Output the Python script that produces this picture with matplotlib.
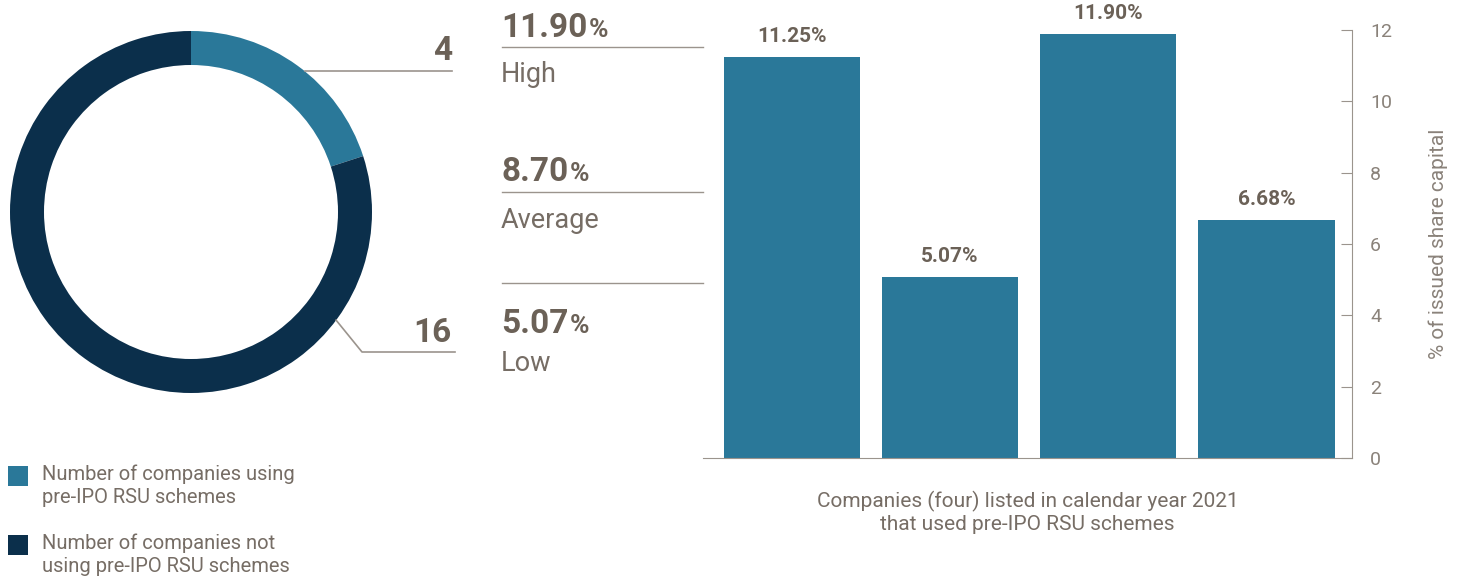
import numpy as np
import matplotlib
matplotlib.use('Agg')
import matplotlib.pyplot as plt
from matplotlib.patches import Rectangle
from matplotlib.lines import Line2D

# данные
donut_labels = ["Number of companies using\npre-IPO RSU schemes",
                "Number of companies not\nusing pre-IPO RSU schemes"]
donut_values = [4, 16]
stat_values = ["11.90", "8.70", "5.07"]
stat_names = ["High", "Average", "Low"]
bar_values = [11.25, 5.07, 11.90, 6.68]
bar_labels = ["11.25%", "5.07%", "11.90%", "6.68%"]
y_ticks = [0, 2, 4, 6, 8, 10, 12]

BLUE = '#2a7899'
NAVY = '#0b2f4b'
NUM = '#6b6157'
TXT = '#766d65'
TICK = '#8a827a'
LINE = '#9b948d'
W, H = 1466, 581

plt.rcParams['font.family'] = ['Roboto', 'DejaVu Sans']

fig = plt.figure(figsize=(W / 100, H / 100), dpi=100)


def fx(x):
    return x / W


def fy(y):
    return 1 - y / H


# пончик
r_px = 181
cx, cy = 191, 212
ax_d = fig.add_axes([fx(cx - r_px), fy(cy + r_px), 2 * r_px / W, 2 * r_px / H])
ax_d.pie(donut_values, colors=[BLUE, NAVY], startangle=90, counterclock=False,
         radius=1, wedgeprops=dict(width=34 / r_px, linewidth=0))
ax_d.set_xlim(-1, 1)
ax_d.set_ylim(-1, 1)
ax_d.set_aspect('auto')
ax_d.axis('off')

# выноски
a1 = np.deg2rad(51)
ax_d.plot([np.cos(a1), 1.44], [np.sin(a1), np.sin(a1)], color=LINE, lw=1.2, clip_on=False)
a2 = np.deg2rad(-36.7)
y2 = -(352 - cy) / r_px
ax_d.plot([np.cos(a2), (362 - cx) / r_px, (455 - cx) / r_px],
          [np.sin(a2), y2, y2], color=LINE, lw=1.2, clip_on=False)
fig.text(fx(452), fy(60), str(donut_values[0]), ha='right', va='baseline',
         fontsize=24, fontweight='bold', color=NUM)
fig.text(fx(452), fy(342), str(donut_values[1]), ha='right', va='baseline',
         fontsize=24, fontweight='bold', color=NUM)

# легенда
for i, (lab, col) in enumerate(zip(donut_labels, [BLUE, NAVY])):
    top = 466 + i * 69
    fig.add_artist(Rectangle((fx(8), fy(top + 20)), 20 / W, 20 / H,
                             transform=fig.transFigure, color=col, lw=0))
    fig.text(fx(42), fy(top - 2), lab, ha='left', va='top', fontsize=14.5,
             color=TXT, linespacing=1.3)

# средний блок
num_y = [37, 181, 333]
name_y = [82, 228, 371]
line_y = [47, 192, 283]
fig.canvas.draw()
for v, n, ny, nm_y, ly in zip(stat_values, stat_names, num_y, name_y, line_y):
    t = fig.text(fx(501), fy(ny), v, ha='left', va='baseline', fontsize=24,
                 fontweight='bold', color=NUM)
    bb = t.get_window_extent(renderer=fig.canvas.get_renderer())
    fig.text(bb.x1 / W + 0.0008, fy(ny), '%', ha='left', va='baseline', fontsize=19,
             fontweight='bold', color=NUM)
    fig.text(fx(501), fy(nm_y), n, ha='left', va='baseline', fontsize=19.5,
             color=TXT)
    fig.add_artist(Line2D([fx(502), fx(703)], [fy(ly), fy(ly)],
                          transform=fig.transFigure, color=LINE, lw=1))

# столбцы
ax = fig.add_axes([fx(703), fy(458), (1352 - 703) / W, (458 - 30) / H])
x = np.arange(len(bar_values))
bars = ax.bar(x, bar_values, width=0.86, color=BLUE)
for b, lab in zip(bars, bar_labels):
    ax.text(b.get_x() + b.get_width() / 2, b.get_height() + 0.3, lab,
            ha='center', va='bottom', fontsize=15, fontweight='bold', color=NUM)
ax.set_xlim(-0.56, 3.54)
ax.set_ylim(0, 12)
ax.set_yticks(y_ticks)
ax.yaxis.tick_right()
ax.yaxis.set_label_position('right')
ax.tick_params(axis='y', direction='in', length=8, color=LINE, labelcolor=TICK,
               labelsize=14, pad=13)
ax.set_xticks([])
for s in ['top', 'left']:
    ax.spines[s].set_visible(False)
ax.spines['right'].set_color(LINE)
ax.spines['bottom'].set_color(LINE)
ax.set_ylabel('% of issued share capital', color=TICK, fontsize=15,
              labelpad=26)
ax.set_xlabel('Companies (four) listed in calendar year 2021\nthat used pre-IPO RSU schemes',
              color=TXT, fontsize=15, labelpad=24, linespacing=1.2)
ax.patch.set_alpha(0)

fig.savefig('out.png', dpi=100)
